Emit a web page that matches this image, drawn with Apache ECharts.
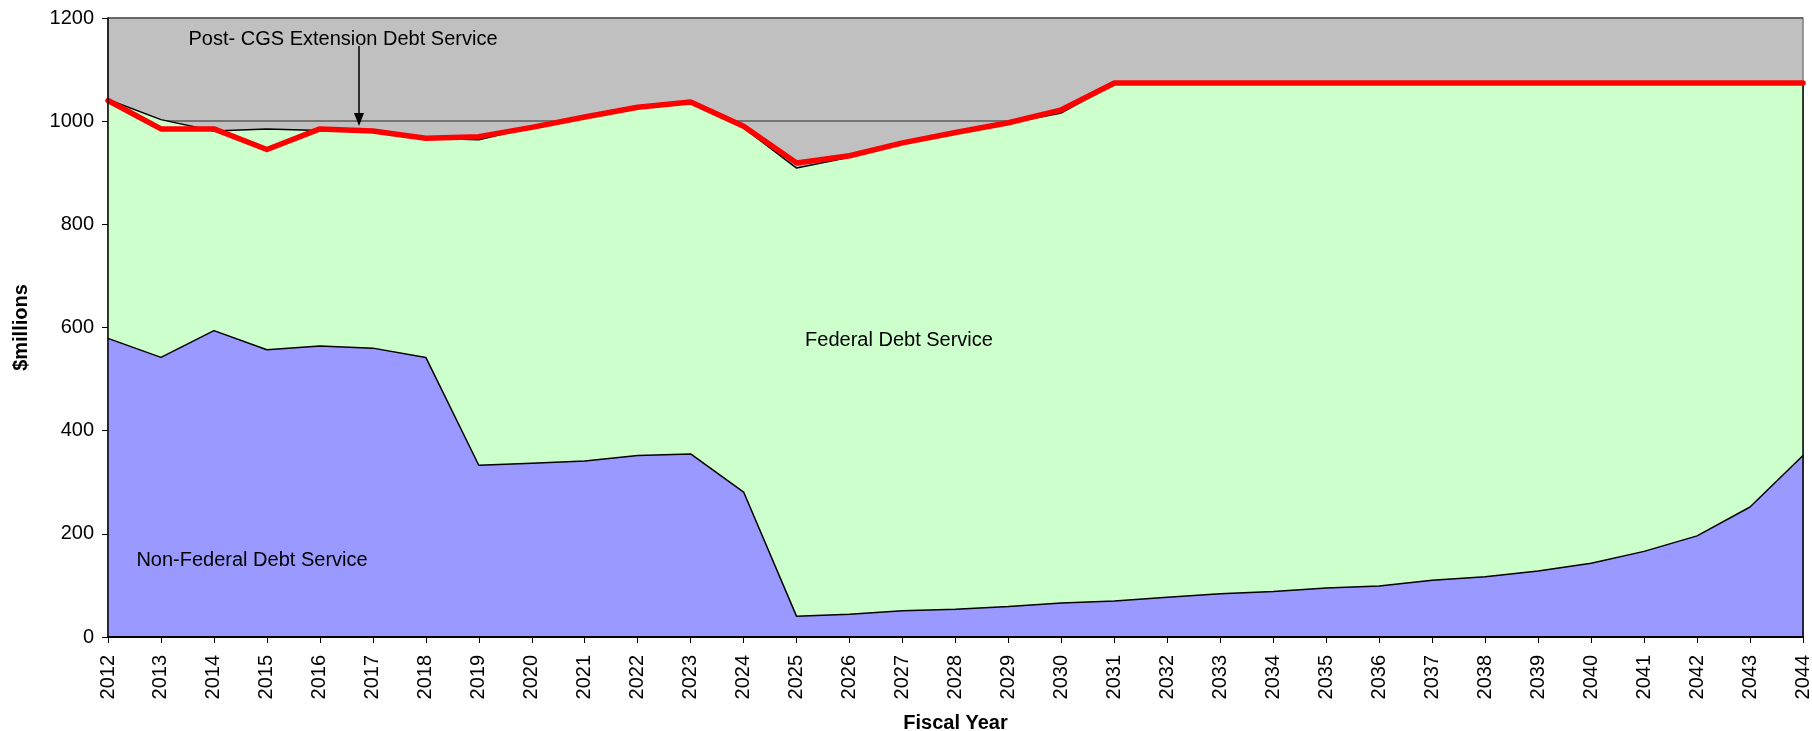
<!DOCTYPE html>
<html>
<head>
<meta charset="utf-8">
<title>Debt Service by Fiscal Year</title>
<script src="https://cdn.jsdelivr.net/npm/echarts@6/dist/echarts.min.js"></script>
<style>
  html, body { margin: 0; padding: 0; background: #ffffff; }
  #chart { width: 1812px; height: 731px; }
</style>
</head>
<body>
<div id="chart"></div>
<script>
// Fiscal years on the category axis
const years = ['2012','2013','2014','2015','2016','2017','2018','2019','2020','2021','2022',
  '2023','2024','2025','2026','2027','2028','2029','2030','2031','2032','2033','2034',
  '2035','2036','2037','2038','2039','2040','2041','2042','2043','2044'];

// Non-Federal debt service, $millions
const nonFederal = [579, 542, 594, 557, 564, 560, 542, 333, 337, 341, 352,
  355, 281, 40, 44, 51, 54, 59, 66, 70, 77, 84, 88,
  95, 99, 110, 117, 128, 143, 166, 196, 252, 352];

// Federal debt service, $millions (stacked on top of non-Federal)
const federal = [463, 461, 387, 428, 418, 420, 425, 631, 651, 666, 674,
  681, 706, 869, 886, 905, 923, 937, 950, 1003, 996, 989, 985,
  978, 974, 963, 956, 945, 930, 907, 877, 821, 721];

// Debt service after the CGS extension, $millions
const postExtension = [1040, 985, 985, 945, 985, 981, 967, 970, 988, 1008, 1027,
  1037, 990, 919, 933, 958, 978, 997, 1022, 1074, 1074, 1074, 1074,
  1074, 1074, 1074, 1074, 1074, 1074, 1074, 1074, 1074, 1074];

// Y axis ticks
const yMin = 0, yMax = 1200, yStep = 200;

const FONT = '"Liberation Sans", Arial, sans-serif';
const lastIdx = years.length - 1;
const lastTotal = nonFederal[lastIdx] + federal[lastIdx];

const chart = echarts.init(document.getElementById('chart'), null, { renderer: 'canvas' });

const option = {
  animation: false,
  backgroundColor: '#ffffff',
  textStyle: { fontFamily: FONT },
  grid: {
    left: 108, right: 9, top: 18, bottom: 94,
    containLabel: false,
    outerBoundsMode: 'none',
    show: true,
    backgroundColor: '#C0C0C0',
    borderColor: '#808080',
    borderWidth: 1.5
  },
  xAxis: {
    type: 'category',
    data: years,
    boundaryGap: false,
    name: 'Fiscal Year',
    nameLocation: 'middle',
    nameGap: 76,
    nameTextStyle: { fontFamily: FONT, fontSize: 20, fontWeight: 'bold', color: '#000' },
    axisLine: { show: true, lineStyle: { color: '#000', width: 2 } },
    axisTick: { show: true, alignWithLabel: true, interval: 0, length: 6, lineStyle: { color: '#000', width: 1 } },
    axisLabel: { interval: 0, rotate: 90, margin: 18, fontFamily: FONT, fontSize: 20, color: '#000' },
    splitLine: { show: false },
    z: 10
  },
  yAxis: [
    {
      // gridlines only, kept beneath the areas
      type: 'value',
      min: yMin, max: yMax, interval: yStep,
      axisLine: { show: false },
      axisTick: { show: false },
      axisLabel: { show: false },
      splitLine: { show: true, lineStyle: { color: '#5a5a5a', width: 1.5 } },
      z: 0
    },
    {
      // axis line, ticks and labels drawn above the areas
      type: 'value',
      position: 'left',
      min: yMin, max: yMax, interval: yStep,
      name: '$millions',
      nameLocation: 'middle',
      nameGap: 77,
      nameRotate: 90,
      nameTextStyle: { fontFamily: FONT, fontSize: 20, fontWeight: 'bold', color: '#000' },
      axisLine: { show: true, lineStyle: { color: '#000', width: 1.5 } },
      axisTick: { show: true, length: 6, lineStyle: { color: '#000', width: 1 } },
      axisLabel: { margin: 14, fontFamily: FONT, fontSize: 20, color: '#000', formatter: v => String(v) },
      splitLine: { show: false },
      z: 10
    }
  ],
  series: [
    {
      name: 'Non-Federal Debt Service',
      type: 'line',
      stack: 'debt',
      data: nonFederal,
      symbol: 'none',
      lineStyle: { color: '#000', width: 1.5 },
      areaStyle: { color: '#9999FF', opacity: 1 },
      z: 3
    },
    {
      name: 'Federal Debt Service',
      type: 'line',
      stack: 'debt',
      data: federal,
      symbol: 'none',
      lineStyle: { color: '#000', width: 1.5 },
      areaStyle: { color: '#CCFFCC', opacity: 1 },
      z: 2,
      markLine: {
        silent: true,
        symbol: 'none',
        label: { show: false },
        lineStyle: { color: '#000', width: 1.5, type: 'solid' },
        data: [[{ coord: [lastIdx, 0] }, { coord: [lastIdx, lastTotal] }]]
      }
    },
    {
      name: 'Post-CGS Extension Debt Service',
      type: 'line',
      data: postExtension,
      symbol: 'none',
      lineStyle: { color: '#FF0000', width: 5.5, join: 'round', cap: 'round' },
      z: 5
    }
  ],
  graphic: [
    {
      type: 'text',
      x: 343, y: 39,
      style: {
        text: 'Post- CGS Extension Debt Service',
        fontFamily: FONT, fontSize: 20, fill: '#000',
        align: 'center', verticalAlign: 'middle'
      },
      z: 20
    },
    {
      type: 'line',
      shape: { x1: 359, y1: 46, x2: 359, y2: 116 },
      style: { stroke: '#000', lineWidth: 1.5 },
      z: 20
    },
    {
      type: 'polygon',
      shape: { points: [[354, 113], [364, 113], [359, 126]] },
      style: { fill: '#000' },
      z: 20
    },
    {
      type: 'text',
      x: 899, y: 340,
      style: {
        text: 'Federal Debt Service',
        fontFamily: FONT, fontSize: 20, fill: '#000',
        align: 'center', verticalAlign: 'middle'
      },
      z: 20
    },
    {
      type: 'text',
      x: 252, y: 560,
      style: {
        text: 'Non-Federal Debt Service',
        fontFamily: FONT, fontSize: 20, fill: '#000',
        align: 'center', verticalAlign: 'middle'
      },
      z: 20
    }
  ]
};

chart.setOption(option);
</script>
</body>
</html>
